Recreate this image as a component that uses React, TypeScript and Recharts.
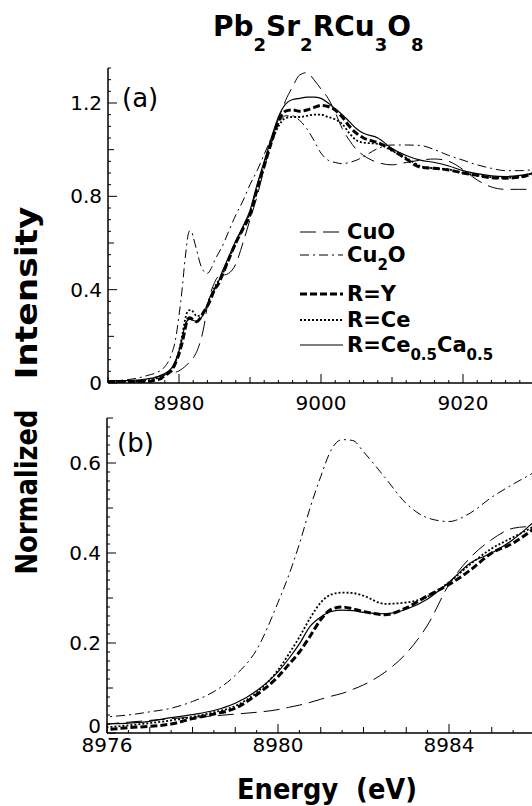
import { LineChart, Line, XAxis, YAxis, Legend } from 'recharts';

// Cu K-edge XANES, photon energy in eV
const energy = [
  8970, 8972, 8974, 8976, 8976.5, 8977, 8977.5, 8978, 8978.5, 8979,
  8979.5, 8980, 8980.25, 8980.5, 8980.75, 8981, 8981.25, 8981.5, 8981.75, 8982,
  8982.5, 8983, 8983.5, 8984, 8984.5, 8985, 8985.5, 8986, 8987, 8988,
  8989, 8990, 8991, 8992, 8993, 8994, 8995, 8996, 8997, 8998,
  8999, 9000, 9001, 9002, 9003, 9004, 9005, 9006, 9008, 9010,
  9012, 9014, 9016, 9018, 9020, 9022, 9024, 9026, 9028, 9030,
];

const cuO = [
  0.0, 0.001, 0.005, 0.02, 0.024, 0.028, 0.032, 0.035, 0.038, 0.042,
  0.046, 0.052, 0.057, 0.062, 0.068, 0.075, 0.082, 0.088, 0.097, 0.107,
  0.135, 0.177, 0.24, 0.33, 0.39, 0.43, 0.455, 0.46, 0.47, 0.51,
  0.6, 0.7, 0.8, 0.92, 1.03, 1.13, 1.21, 1.27, 1.32, 1.33,
  1.3, 1.26, 1.22, 1.16, 1.09, 1.04, 1.0, 0.975, 0.945, 0.935,
  0.945, 0.955, 0.96, 0.95, 0.915, 0.87, 0.84, 0.83, 0.83, 0.83,
];

const cu2O = [
  0.01, 0.012, 0.02, 0.036, 0.04, 0.047, 0.055, 0.07, 0.092, 0.128,
  0.185, 0.29, 0.35, 0.42, 0.5, 0.57, 0.63, 0.652, 0.65, 0.625,
  0.568, 0.51, 0.478, 0.47, 0.489, 0.524, 0.553, 0.58, 0.65, 0.72,
  0.78, 0.85, 0.91, 0.98, 1.05, 1.11, 1.145, 1.145, 1.125, 1.09,
  1.04, 0.985, 0.955, 0.945, 0.94, 0.945, 0.955, 0.97, 1.005, 1.02,
  1.02, 1.018, 1.0, 0.975, 0.955, 0.935, 0.92, 0.91, 0.91, 0.915,
];

const rY = [
  0.005, 0.005, 0.006, 0.008, 0.012, 0.015, 0.02, 0.032, 0.042, 0.055,
  0.085, 0.125, 0.152, 0.18, 0.215, 0.252, 0.275, 0.28, 0.276, 0.27,
  0.263, 0.278, 0.305, 0.33, 0.362, 0.4, 0.422, 0.455, 0.53, 0.6,
  0.66, 0.72, 0.83, 0.93, 1.03, 1.12, 1.165, 1.17, 1.165, 1.17,
  1.18, 1.19, 1.185, 1.17, 1.14, 1.1, 1.07, 1.05, 1.03, 1.0,
  0.96, 0.925, 0.92, 0.913, 0.9, 0.89, 0.88, 0.878, 0.882, 0.9,
];

const rCe = [
  0.006, 0.007, 0.008, 0.013, 0.017, 0.022, 0.028, 0.036, 0.046, 0.06,
  0.09, 0.14, 0.175, 0.213, 0.255, 0.29, 0.308, 0.312, 0.311, 0.305,
  0.287, 0.29, 0.303, 0.335, 0.375, 0.41, 0.435, 0.46, 0.53, 0.6,
  0.665, 0.73, 0.84, 0.94, 1.03, 1.1, 1.135, 1.14, 1.14, 1.145,
  1.15, 1.15, 1.14, 1.13, 1.11, 1.07, 1.04, 1.03, 1.025, 0.995,
  0.965, 0.93, 0.92, 0.915, 0.9, 0.89, 0.882, 0.88, 0.885, 0.9,
];

const rCeCa = [
  0.008, 0.01, 0.012, 0.02, 0.022, 0.026, 0.034, 0.041, 0.05, 0.066,
  0.094, 0.136, 0.165, 0.198, 0.237, 0.258, 0.27, 0.273, 0.272, 0.268,
  0.265, 0.275, 0.298, 0.335, 0.378, 0.4, 0.43, 0.47, 0.54, 0.61,
  0.67, 0.74, 0.85, 0.95, 1.05, 1.14, 1.195, 1.215, 1.22, 1.225,
  1.225, 1.22, 1.2, 1.175, 1.15, 1.12, 1.09, 1.07, 1.05, 1.005,
  0.975, 0.955, 0.945, 0.93, 0.91, 0.897, 0.888, 0.885, 0.89, 0.9,
];

const rows = energy.map((e, i) => ({
  e,
  cuO: cuO[i],
  cu2O: cu2O[i],
  rY: rY[i],
  rCe: rCe[i],
  rCeCa: rCeCa[i],
}));

type Part = [string, boolean?];

const SERIES: { key: string; label: Part[]; dash?: string; width: number }[] = [
  { key: 'cuO', label: [['CuO']], dash: '16 7', width: 1 },
  { key: 'cu2O', label: [['Cu'], ['2', true], ['O']], dash: '9 4 2 4', width: 1 },
  { key: 'rY', label: [['R=Y']], dash: '7 3', width: 3 },
  { key: 'rCe', label: [['R=Ce']], dash: '2 2', width: 1.8 },
  { key: 'rCeCa', label: [['R=Ce'], ['0.5', true], ['Ca'], ['0.5', true]], width: 1.2 },
];

const titleParts: Part[] = [
  ['Pb'], ['2', true], ['Sr'], ['2', true], ['RCu'], ['3', true], ['O'], ['8', true],
];

// tick positions
const steps = (from: number, to: number, step: number) =>
  Array.from({ length: Math.round((to - from) / step) + 1 }, (_, i) => +(from + i * step).toFixed(3));

const xTicksA = steps(8970, 9030, 2);
const xLabelsA = [8980, 9000, 9020];
const yTicksA = steps(0, 1.35, 0.05);
const yLabelsA = [0, 0.4, 0.8, 1.2];

const xTicksB = steps(8976, 8986, 0.5);
const xLabelsB = [8976, 8980, 8984];
const yTicksB = steps(0, 0.7, 0.02);
const yLabelsB = [0, 0.2, 0.4, 0.6];

const FONT = "'DejaVu Sans', sans-serif";

const near = (v: number, list: number[]) => list.some((b) => Math.abs(v - b) < 1e-6);
const onStep = (v: number, s: number) => Math.abs(v / s - Math.round(v / s)) < 1e-6;

type Side = 'bottom' | 'top' | 'left' | 'right';

// inward ticks, labels only on bottom/left
function makeTick(side: Side, labels: number[], mid: number, gap = 0, zeroLift = 0) {
  return (props: any) => {
    const { x, y, payload } = props;
    const v = payload.value as number;
    const isLabel = near(v, labels);
    const len = isLabel ? 9 : onStep(v, mid) ? 6 : 3;
    let x2 = x;
    let y2 = y;
    if (side === 'bottom') y2 = y - len;
    if (side === 'top') y2 = y + len;
    if (side === 'left') x2 = x + len;
    if (side === 'right') x2 = x - len;
    return (
      <g>
        <line x1={x} y1={y} x2={x2} y2={y2} stroke='#000' strokeWidth={1} />
        {isLabel && side === 'bottom' && (
          <text x={x} y={y + gap} textAnchor='middle' fontSize={20} fontFamily={FONT} fill='#000'>
            {String(v)}
          </text>
        )}
        {isLabel && side === 'left' && (
          <text
            x={x - 6}
            y={v === 0 ? y - zeroLift : y}
            textAnchor='end'
            dominantBaseline='central'
            fontSize={20}
            fontFamily={FONT}
            fill='#000'
          >
            {String(v)}
          </text>
        )}
      </g>
    );
  };
}

function Rich({ parts, size, subSize, shift }: { parts: Part[]; size: number; subSize: number; shift: number }) {
  let down = false;
  return (
    <>
      {parts.map(([t, sub], i) => {
        let dy = 0;
        if (sub && !down) {
          dy = shift;
          down = true;
        } else if (!sub && down) {
          dy = -shift;
          down = false;
        }
        return (
          <tspan key={i} dy={dy} fontSize={sub ? subSize : size}>
            {t}
          </tspan>
        );
      })}
    </>
  );
}

const legendRows = [14, 37, 76, 102, 127];

const renderLegend = () => (
  <svg width={240} height={150}>
    {SERIES.map((s, i) => (
      <g key={s.key} transform={`translate(0, ${legendRows[i]})`}>
        <line x1={4} x2={47} y1={0} y2={0} stroke='#000' strokeWidth={s.width} strokeDasharray={s.dash} />
        <text x={51} y={7} fontFamily={FONT} fontWeight='bold' fill='#000'>
          <Rich parts={s.label} size={21} subSize={15} shift={8} />
        </text>
      </g>
    ))}
  </svg>
);

const axisLine = { stroke: '#000', strokeWidth: 1.5 };

function Panel({
  top,
  height,
  margin,
  xDomain,
  yDomain,
  xTicks,
  yTicks,
  xLabels,
  yLabels,
  xMid,
  yMid,
  gap,
  zeroLift = 0,
  legend,
}: {
  top: number;
  height: number;
  margin: { top: number; right: number; bottom: number; left: number };
  xDomain: [number, number];
  yDomain: [number, number];
  xTicks: number[];
  yTicks: number[];
  xLabels: number[];
  yLabels: number[];
  xMid: number;
  yMid: number;
  gap: number;
  zeroLift?: number;
  legend?: boolean;
}) {
  return (
    <LineChart
      width={540}
      height={height}
      data={rows}
      margin={margin}
      style={{ position: 'absolute', left: 0, top }}
    >
      <XAxis
        dataKey='e'
        type='number'
        domain={xDomain}
        allowDataOverflow
        ticks={xTicks}
        interval={0}
        height={30}
        tickSize={0}
        tickMargin={0}
        tickLine={false}
        axisLine={axisLine}
        tick={makeTick('bottom', xLabels, xMid, gap)}
      />
      <XAxis
        xAxisId='t'
        orientation='top'
        dataKey='e'
        type='number'
        domain={xDomain}
        allowDataOverflow
        ticks={xTicks}
        interval={0}
        height={0}
        tickSize={0}
        tickMargin={0}
        tickLine={false}
        axisLine={axisLine}
        tick={makeTick('top', xLabels, xMid)}
      />
      <YAxis
        type='number'
        domain={yDomain}
        allowDataOverflow
        ticks={yTicks}
        interval={0}
        width={50}
        tickSize={0}
        tickMargin={0}
        tickLine={false}
        axisLine={axisLine}
        tick={makeTick('left', yLabels, yMid, 0, zeroLift)}
      />
      <YAxis
        yAxisId='r'
        orientation='right'
        type='number'
        domain={yDomain}
        allowDataOverflow
        ticks={yTicks}
        interval={0}
        width={0}
        tickSize={0}
        tickMargin={0}
        tickLine={false}
        axisLine={axisLine}
        tick={makeTick('right', yLabels, yMid)}
      />
      {SERIES.map((s) => (
        <Line
          key={s.key}
          dataKey={s.key}
          type='monotone'
          stroke='#000'
          strokeWidth={s.width}
          strokeDasharray={s.dash}
          dot={false}
          activeDot={false}
          isAnimationActive={false}
        />
      ))}
      {legend && (
        <Legend
          layout='vertical'
          align='center'
          verticalAlign='middle'
          wrapperStyle={{ left: 296, top: 218, width: 240, height: 150 }}
          content={renderLegend}
        />
      )}
    </LineChart>
  );
}

export default function App() {
  return (
    <div
      style={{
        position: 'absolute',
        left: 0,
        top: 0,
        width: 532,
        height: 806,
        overflow: 'hidden',
        background: '#fff',
      }}
    >
      <Panel
        top={0}
        height={420}
        margin={{ top: 68, right: 6, bottom: 7, left: 58 }}
        xDomain={[8970, 9030]}
        yDomain={[0, 1.35]}
        xTicks={xTicksA}
        yTicks={yTicksA}
        xLabels={xLabelsA}
        yLabels={yLabelsA}
        xMid={10}
        yMid={0.2}
        gap={27}
        legend
      />
      <Panel
        top={390}
        height={380}
        margin={{ top: 28, right: 5.5, bottom: 7, left: 57 }}
        xDomain={[8976, 8986]}
        yDomain={[0, 0.7]}
        xTicks={xTicksB}
        yTicks={yTicksB}
        xLabels={xLabelsB}
        yLabels={yLabelsB}
        xMid={1}
        yMid={0.1}
        gap={19}
        zeroLift={7}
      />
      <svg
        width={532}
        height={806}
        style={{ position: 'absolute', left: 0, top: 0, pointerEvents: 'none' }}
        fontFamily={FONT}
      >
        <text x={213} y={36} fontWeight='bold' fill='#000'>
          <Rich parts={titleParts} size={28} subSize={18} shift={15} />
        </text>
        <g transform='translate(26, 0) rotate(-90)' fontSize={30} fontWeight='bold'>
          <text x={-293} y={0} textAnchor='middle' dominantBaseline='central' textLength={173} lengthAdjust='spacingAndGlyphs'>
            Intensity
          </text>
          <text x={-492} y={0} textAnchor='middle' dominantBaseline='central' textLength={165} lengthAdjust='spacingAndGlyphs'>
            Normalized
          </text>
        </g>
        <text
          x={327}
          y={799}
          textAnchor='middle'
          fontSize={28}
          fontWeight='bold'
          textLength={180}
          lengthAdjust='spacingAndGlyphs'
          style={{ whiteSpace: 'pre' }}
        >
          {'Energy  (eV)'}
        </text>
        <text x={122} y={107} fontSize={26}>
          (a)
        </text>
        <text x={117} y={452} fontSize={26}>
          (b)
        </text>
      </svg>
    </div>
  );
}
